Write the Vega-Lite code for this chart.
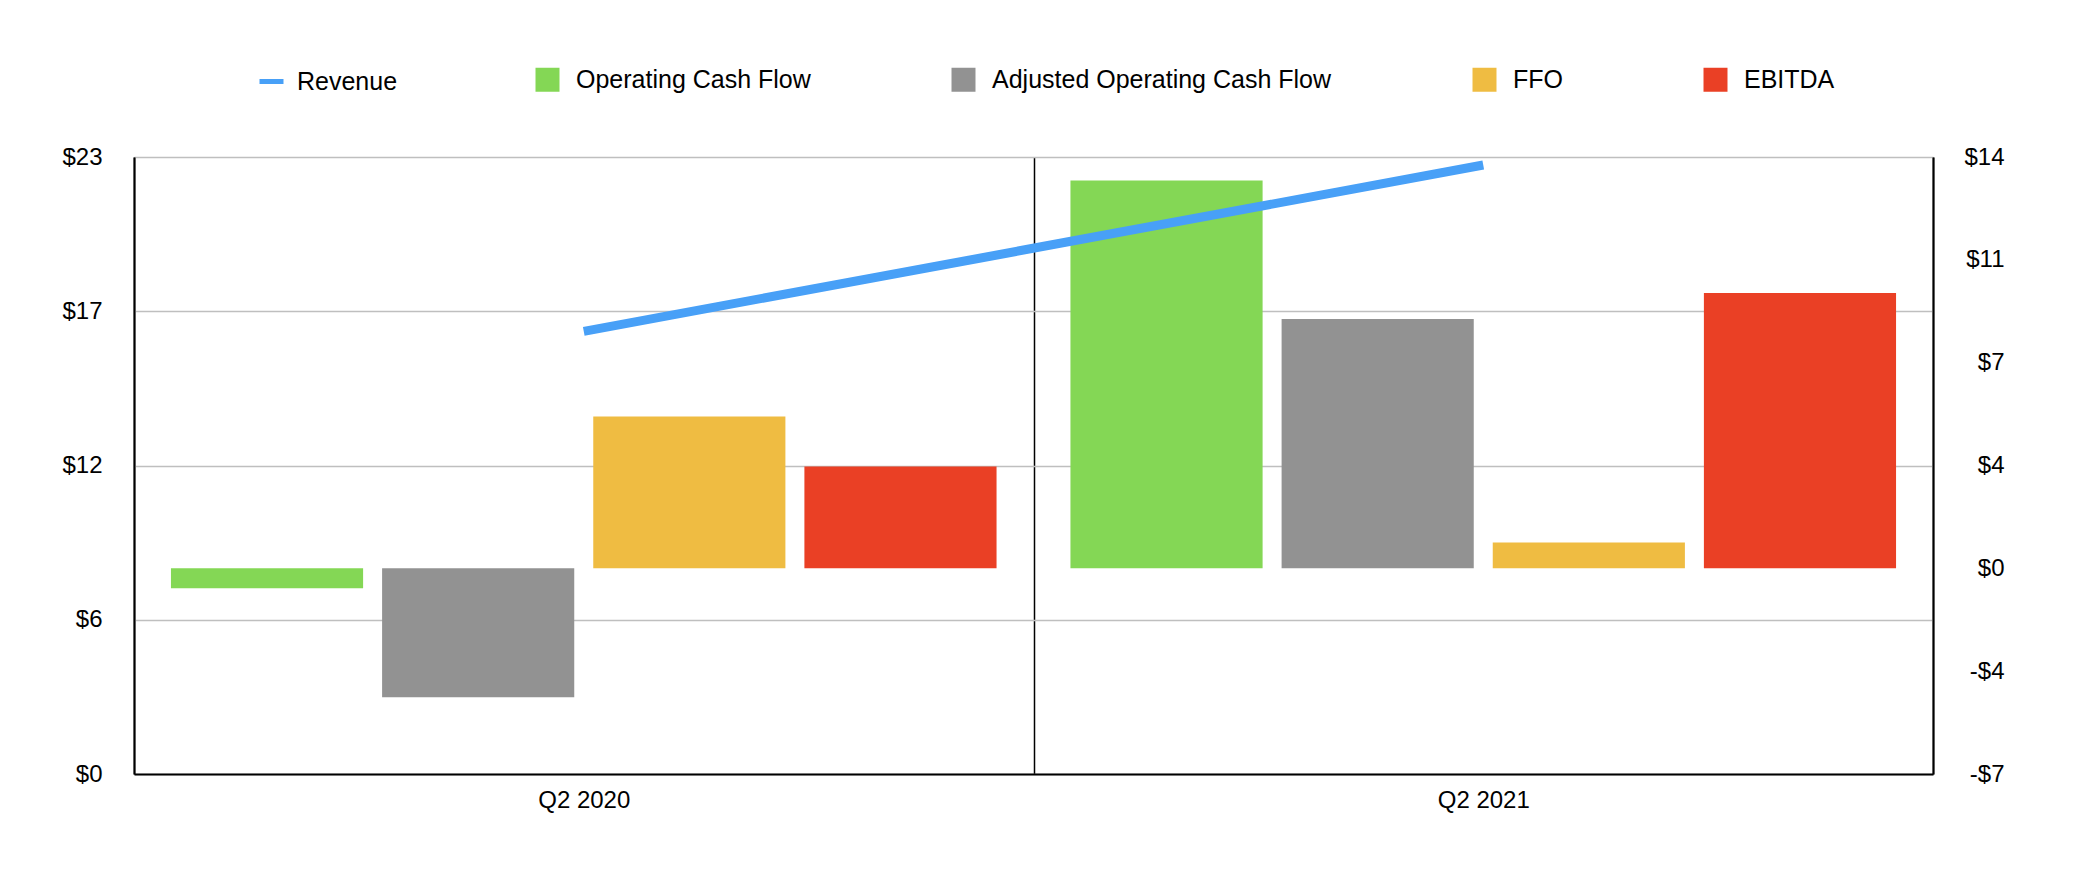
{
  "$schema": "https://vega.github.io/schema/vega-lite/v6.json",
  "width": 1799,
  "height": 617,
  "autosize": {"type": "none"},
  "padding": {"left": 134, "top": 157, "right": 143, "bottom": 108},
  "background": "white",
  "config": {
    "view": {"stroke": null},
    "font": "Liberation Sans",
    "axis": {"labelColor": "black", "labelFontSize": 24, "ticks": false, "tickSize": 0, "title": null, "domainColor": "black", "domainWidth": 2},
    "legend": {"labelColor": "black", "labelFontSize": 25, "title": null, "labelLimit": 1000}
  },
  "datasets": {
    "bars": [
      {"quarter": "Q2 2020", "metric": "Operating Cash Flow", "value": -0.68},
      {"quarter": "Q2 2020", "metric": "Adjusted Operating Cash Flow", "value": -4.39},
      {"quarter": "Q2 2020", "metric": "FFO", "value": 5.17},
      {"quarter": "Q2 2020", "metric": "EBITDA", "value": 3.47},
      {"quarter": "Q2 2021", "metric": "Operating Cash Flow", "value": 13.2},
      {"quarter": "Q2 2021", "metric": "Adjusted Operating Cash Flow", "value": 8.49},
      {"quarter": "Q2 2021", "metric": "FFO", "value": 0.88},
      {"quarter": "Q2 2021", "metric": "EBITDA", "value": 9.37}
    ],
    "revenue": [
      {"quarter": "Q2 2020", "series": "Revenue", "revenue": 16.5},
      {"quarter": "Q2 2021", "series": "Revenue", "revenue": 22.7}
    ]
  },
  "layer": [
    {
      "data": {"name": "bars"},
      "mark": {"type": "bar"},
      "encoding": {
        "x": {
          "field": "quarter", "type": "nominal", "sort": null,
          "scale": {"paddingInner": 0, "paddingOuter": 0},
          "axis": {"orient": "bottom", "labelAngle": 0, "labelPadding": 14, "grid": true, "gridColor": "black", "gridWidth": 1.5, "tickBand": "extent"}
        },
        "xOffset": {
          "field": "metric", "type": "nominal",
          "sort": ["Operating Cash Flow", "Adjusted Operating Cash Flow", "FFO", "EBITDA"],
          "scale": {"paddingInner": 0.09, "paddingOuter": 0.175}
        },
        "y": {
          "field": "value", "type": "quantitative",
          "scale": {"domain": [-7, 14], "nice": false, "zero": false},
          "axis": {"orient": "right", "values": [-7, -3.5, 0, 3.5, 7, 10.5, 14], "labelExpr": "(datum.value < 0 ? '-$' : '$') + format(abs(datum.value), '.0f')", "grid": false, "labelPadding": 71, "labelAlign": "right"}
        },
        "color": {
          "field": "metric", "type": "nominal",
          "scale": {"domain": ["Operating Cash Flow", "Adjusted Operating Cash Flow", "FFO", "EBITDA"], "range": ["#84D755", "#929292", "#EFBC42", "#EA4025"]},
          "legend": {"orient": "none", "legendX": 401, "legendY": -90, "direction": "horizontal", "symbolType": "square", "symbolSize": 576, "symbolStrokeWidth": 0, "labelOffset": 16, "columnPadding": 140}
        }
      }
    },
    {
      "data": {"name": "revenue"},
      "mark": {"type": "line", "strokeWidth": 9},
      "encoding": {
        "x": {"field": "quarter", "type": "nominal", "sort": null},
        "y": {
          "field": "revenue", "type": "quantitative",
          "scale": {"domain": [0, 23], "nice": false, "zero": false},
          "axis": {"orient": "left", "values": [0, 5.75, 11.5, 17.25, 23], "labelExpr": "'$' + format(datum.value, '.0f')", "grid": true, "gridColor": "#BFBFBF", "gridWidth": 1.5, "labelPadding": 32}
        },
        "stroke": {
          "field": "series", "type": "nominal",
          "scale": {"domain": ["Revenue"], "range": ["#48A0F7"]},
          "legend": {"orient": "none", "legendX": 123, "legendY": -90, "direction": "horizontal", "symbolType": "stroke", "symbolSize": 576, "symbolStrokeWidth": 5, "labelOffset": 11}
        }
      }
    }
  ],
  "resolve": {"scale": {"y": "independent"}}
}
